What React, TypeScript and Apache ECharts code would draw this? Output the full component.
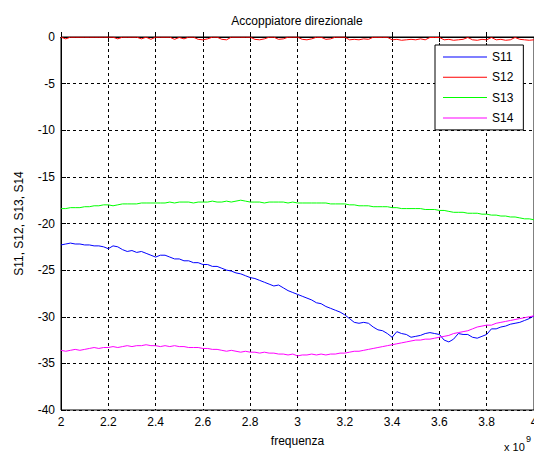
import React, { useEffect, useRef } from "react";
import * as echarts from "echarts";

const TITLE = "Accoppiatore direzionale";
const X_NAME = "frequenza";
const Y_NAME = "S11, S12, S13, S14";
const SERIES_NAMES = ["S11", "S12", "S13", "S14"];
const SERIES_COLORS = ["#0000ff", "#ff0000", "#00ff00", "#ff00ff"];

// frequency in units of 1e9 Hz
const freq = [
  2.00, 2.02, 2.04, 2.06, 2.08, 2.10, 2.12, 2.14, 2.16, 2.18,
  2.20, 2.22, 2.24, 2.26, 2.28, 2.30, 2.32, 2.34, 2.36, 2.38,
  2.40, 2.42, 2.44, 2.46, 2.48, 2.50, 2.52, 2.54, 2.56, 2.58,
  2.60, 2.62, 2.64, 2.66, 2.68, 2.70, 2.72, 2.74, 2.76, 2.78,
  2.80, 2.82, 2.84, 2.86, 2.88, 2.90, 2.92, 2.94, 2.96, 2.98,
  3.00, 3.02, 3.04, 3.06, 3.08, 3.10, 3.12, 3.14, 3.16, 3.18,
  3.20, 3.22, 3.24, 3.26, 3.28, 3.30, 3.32, 3.34, 3.36, 3.38,
  3.40, 3.42, 3.44, 3.46, 3.48, 3.50, 3.52, 3.54, 3.56, 3.58,
  3.60, 3.62, 3.64, 3.66, 3.68, 3.70, 3.72, 3.74, 3.76, 3.78,
  3.80, 3.82, 3.84, 3.86, 3.88, 3.90, 3.92, 3.94, 3.96, 3.98,
  4.00,
];

const s11 = [
  -22.3, -22.2, -22.1, -22.2, -22.2, -22.3, -22.3, -22.4, -22.4, -22.5,
  -22.7, -22.4, -22.5, -22.8, -23.0, -22.9, -23.1, -23.0, -23.2, -23.4,
  -23.6, -23.4, -23.4, -23.6, -23.8, -23.8, -24.0, -24.0, -24.2, -24.2,
  -24.4, -24.4, -24.6, -24.6, -24.8, -25.0, -25.1, -25.3, -25.4, -25.6,
  -25.8, -25.9, -26.1, -26.3, -26.5, -26.7, -26.6, -26.9, -27.2, -27.4,
  -27.6, -27.8, -28.0, -28.2, -28.5, -28.6, -28.9, -29.1, -29.3, -29.5,
  -29.8, -30.2, -30.6, -30.7, -30.6, -30.7, -31.1, -31.4, -31.5, -31.8,
  -32.2, -31.6, -31.8, -31.9, -32.2, -32.1, -32.0, -31.8, -31.7, -31.8,
  -31.9, -32.5, -32.7, -32.4, -31.8, -31.9, -31.9, -32.2, -32.3, -32.1,
  -31.9, -31.3, -31.3, -31.1, -31.0, -30.8, -30.7, -30.6, -30.4, -30.2,
  -29.9,
];

const s12 = [
  -0.02, -0.2, -0.02, -0.02, -0.02, -0.02, -0.02, -0.02, -0.02, -0.02,
  -0.02, -0.02, -0.2, -0.02, -0.02, -0.02, -0.02, -0.2, -0.02, -0.25,
  -0.02, -0.02, -0.02, -0.02, -0.25, -0.05, -0.2, -0.02, -0.02, -0.25,
  -0.3, -0.2, -0.02, -0.02, -0.25, -0.3, -0.02, -0.02, -0.02, -0.02,
  -0.02, -0.25, -0.3, -0.2, -0.02, -0.02, -0.25, -0.2, -0.02, -0.02,
  -0.02, -0.25, -0.3, -0.2, -0.03, -0.03, -0.25, -0.2, -0.02, -0.02,
  -0.02, -0.3, -0.25, -0.3, -0.2, -0.25, -0.03, -0.03, -0.03, -0.03,
  -0.3, -0.25, -0.35, -0.3, -0.25, -0.3, -0.2, -0.3, -0.05, -0.05,
  -0.05, -0.3, -0.25, -0.35, -0.3, -0.25, -0.05, -0.3, -0.35, -0.25,
  -0.3, -0.05, -0.3, -0.25, -0.35, -0.3, -0.05, -0.25, -0.3, -0.35,
  -0.3,
];

const s13 = [
  -18.4, -18.4, -18.3, -18.3, -18.3, -18.2, -18.2, -18.1, -18.1, -18.0,
  -18.0, -18.1, -18.0, -17.9, -17.9, -17.9, -17.9, -17.8, -17.8, -17.8,
  -17.8, -17.8, -17.8, -17.7, -17.8, -17.7, -17.7, -17.7, -17.8, -17.7,
  -17.7, -17.7, -17.6, -17.7, -17.7, -17.6, -17.7, -17.6, -17.5, -17.6,
  -17.7, -17.7, -17.7, -17.8, -17.7, -17.7, -17.7, -17.7, -17.8, -17.7,
  -17.8, -17.8, -17.8, -17.8, -17.8, -17.8, -17.8, -17.9, -17.9, -17.9,
  -17.9, -18.0, -18.0, -18.1, -18.1, -18.1, -18.2, -18.2, -18.2, -18.2,
  -18.3, -18.3, -18.4, -18.4, -18.4, -18.4, -18.4, -18.5, -18.5, -18.5,
  -18.6, -18.6, -18.7, -18.8, -18.8, -18.8, -18.9, -18.9, -18.9, -19.0,
  -19.0, -19.1, -19.1, -19.2, -19.2, -19.3, -19.3, -19.4, -19.5, -19.5,
  -19.6,
];

const s14 = [
  -33.6, -33.7, -33.6, -33.5, -33.6, -33.5, -33.4, -33.3, -33.4, -33.3,
  -33.3, -33.2, -33.3, -33.2, -33.1, -33.2, -33.1, -33.1, -33.0, -33.1,
  -33.1, -33.2, -33.1, -33.2, -33.1, -33.2, -33.2, -33.3, -33.3, -33.3,
  -33.4, -33.4, -33.5, -33.5, -33.6, -33.7, -33.6, -33.7, -33.8, -33.7,
  -33.8, -33.8, -33.9, -33.8, -33.9, -33.9, -34.0, -34.0, -34.1, -34.0,
  -34.2, -34.1, -34.1, -34.0, -34.1, -34.0, -34.1, -34.0, -34.0, -33.9,
  -33.9, -33.8, -33.7, -33.7, -33.6, -33.5, -33.4, -33.3, -33.2, -33.1,
  -33.0, -32.9, -32.8, -32.7, -32.6, -32.5, -32.5, -32.4, -32.4, -32.3,
  -32.2, -32.1, -32.0, -31.8, -31.7, -31.6, -31.5, -31.3, -31.1, -31.0,
  -30.9, -30.9, -30.7, -30.6, -30.5, -30.4, -30.3, -30.2, -30.1, -30.0,
  -29.9,
];

const SERIES_DATA = [s11, s12, s13, s14];

const FONT = "'Liberation Sans', Arial, Helvetica, sans-serif";

export default function App() {
  const ref = useRef<HTMLDivElement>(null);

  useEffect(() => {
    if (!ref.current) return;
    const chart = echarts.init(ref.current, null, { renderer: "svg" });
    const pair = (ys: number[]) => freq.map((f, i) => [f, ys[i]]);
    const fmt = (v: number) => String(Number(v.toFixed(1)));

    chart.setOption({
      animation: false,
      backgroundColor: "#ffffff",
      textStyle: { fontFamily: FONT },
      grid: {
        left: 61,
        right: 0,
        top: 37,
        bottom: 42,
        show: true,
        borderColor: "#000",
        borderWidth: 1,
        backgroundColor: "transparent",
        containLabel: false,
        outerBoundsMode: "none",
      },
      legend: {
        orient: "vertical",
        left: 435,
        top: 45,
        padding: [6, 10, 6, 8],
        itemWidth: 44,
        itemHeight: 12,
        itemGap: 8.3,
        icon: "path://M0,0H44V1H0Z",
        borderColor: "#000",
        borderWidth: 1,
        backgroundColor: "#fff",
        borderRadius: 0,
        textStyle: { fontFamily: FONT, fontSize: 12, color: "#000" },
        data: SERIES_NAMES,
      },
      xAxis: [
        {
          type: "value",
          min: 2,
          max: 4,
          interval: 0.2,
          name: X_NAME,
          nameLocation: "middle",
          nameGap: 25,
          nameTextStyle: { fontFamily: FONT, fontSize: 12, color: "#000" },
          axisLine: { show: true, lineStyle: { color: "#000", width: 1 } },
          axisTick: { show: true, inside: true, length: 5, lineStyle: { color: "#000" } },
          axisLabel: {
            show: true,
            margin: 6,
            fontFamily: FONT,
            fontSize: 12,
            color: "#000",
            formatter: fmt,
            showMinLabel: true,
            showMaxLabel: true,
          },
          splitLine: { show: true, lineStyle: { color: "#000", width: 1, type: [3, 3] } },
        },
        {
          type: "value",
          position: "top",
          min: 2,
          max: 4,
          interval: 0.2,
          axisLine: { show: true, lineStyle: { color: "#000", width: 1 } },
          axisTick: { show: true, inside: true, length: 5, lineStyle: { color: "#000" } },
          axisLabel: { show: false },
          splitLine: { show: false },
        },
      ],
      yAxis: {
        type: "value",
        min: -40,
        max: 0,
        interval: 5,
        name: Y_NAME,
        nameLocation: "middle",
        nameRotate: 90,
        nameGap: 36,
        nameTextStyle: { fontFamily: FONT, fontSize: 12, color: "#000" },
        axisLine: { show: true, lineStyle: { color: "#000", width: 1 } },
        axisTick: { show: true, inside: true, length: 5, lineStyle: { color: "#000" } },
        axisLabel: { margin: 6, fontFamily: FONT, fontSize: 12, color: "#000" },
        splitLine: { show: true, lineStyle: { color: "#000", width: 1, type: [3, 3] } },
      },
      series: SERIES_NAMES.map((name, i) => ({
        name,
        type: "line",
        xAxisIndex: 0,
        data: pair(SERIES_DATA[i]),
        symbol: "none",
        showSymbol: false,
        clip: true,
        color: SERIES_COLORS[i],
        lineStyle: { color: SERIES_COLORS[i], width: 1 },
        z: 3,
      })),
      graphic: [
        {
          type: "text",
          x: 297,
          y: 21,
          style: {
            text: TITLE,
            fontFamily: FONT,
            fontSize: 12,
            fill: "#000",
            align: "center",
            verticalAlign: "middle",
          },
        },
        {
          type: "text",
          x: 504,
          y: 447,
          style: {
            text: "x 10",
            fontFamily: FONT,
            fontSize: 11,
            fill: "#000",
            align: "left",
            verticalAlign: "middle",
          },
        },
        {
          type: "text",
          x: 526,
          y: 439,
          style: {
            text: "9",
            fontFamily: FONT,
            fontSize: 9,
            fill: "#000",
            align: "left",
            verticalAlign: "middle",
          },
        },
      ],
    });

    return () => chart.dispose();
  }, []);

  return (
    <div
      ref={ref}
      style={{ position: "absolute", left: 0, top: 0, width: 534, height: 452 }}
    />
  );
}
